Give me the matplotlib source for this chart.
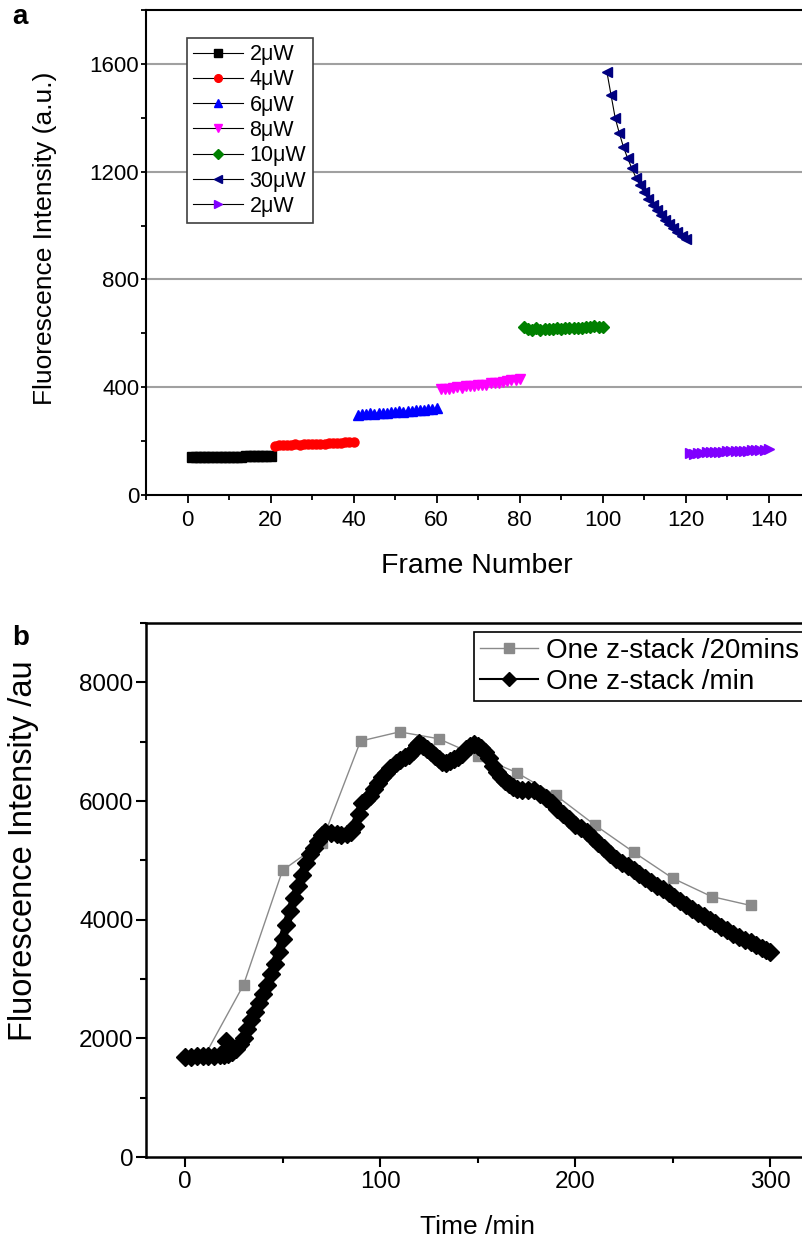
import numpy as np
import matplotlib
matplotlib.use("Agg")
import matplotlib.pyplot as plt
from matplotlib.ticker import MultipleLocator

plt.rcParams['font.family'] = ['Liberation Sans', 'DejaVu Sans']

# ---- panel a data: frame number vs intensity, one block of 20 frames per power
labels_a = ["2\u03bcW", "4\u03bcW", "6\u03bcW", "8\u03bcW", "10\u03bcW", "30\u03bcW", "2\u03bcW"]
frames_a = [np.arange(1, 21), np.arange(21, 41), np.arange(41, 61), np.arange(61, 81),
            np.arange(81, 101), np.arange(101, 121), np.arange(121, 141)]
p2 = [141, 140, 140, 141, 140, 140, 141, 140, 140, 141, 140, 140, 141, 145, 146, 145, 145, 146, 145, 146]
p4 = [183, 186, 185, 187, 186, 188, 187, 189, 188, 190, 189, 191, 190, 192, 193, 192, 194, 195, 196, 197]
p6 = [296, 300, 301, 303, 302, 305, 306, 305, 308, 309, 310, 309, 312, 313, 315, 314, 317, 318, 320, 322]
p8 = [392, 395, 393, 397, 399, 398, 403, 405, 404, 408, 410, 409, 414, 416, 415, 420, 424, 425, 428, 432]
p10 = [622, 615, 612, 618, 614, 617, 615, 616, 618, 617, 619, 618, 620, 619, 621, 622, 623, 628, 625, 624]
p30 = [1571, 1485, 1400, 1343, 1291, 1250, 1213, 1178, 1149, 1123, 1099, 1076, 1056, 1038, 1020,
       1004, 990, 976, 962, 950]
p2b = [155, 153, 156, 157, 158, 158, 160, 160, 161, 162, 162, 163, 164, 165, 165, 166, 167, 168, 168, 170]
values_a = [p2, p4, p6, p8, p10, p30, p2b]
colors_a = ["black", "red", "blue", "magenta", "green", "navy", "#8000ff"]
markers_a = ["s", "o", "^", "v", "D", "<", ">"]

# ---- panel b data
t_20 = [10, 30, 50, 70, 90, 110, 130, 150, 170, 190, 210, 230, 250, 270, 290]
v_20 = [1700, 2900, 4830, 5300, 7010, 7165, 7050, 6760, 6480, 6100, 5600, 5140, 4700, 4390, 4240]

# one z-stack per minute
t_min = [0, 3, 6, 9, 12, 15, 18, 20, 21, 22,
         24, 26, 28, 30, 32, 34, 36, 38, 40, 42, 44, 46, 48, 50, 52, 54, 56, 58, 60, 62, 64, 66, 68, 70, 72,
         75, 78, 80, 83, 85, 87, 89, 91, 93, 95, 97, 99, 101, 103, 105, 108, 110, 113, 115, 117, 119, 120,
         122, 124, 126, 128, 130, 132, 134, 136, 138, 140, 142, 144, 146, 148, 150, 152, 154, 156, 158,
         160, 162, 164, 166, 168, 170,
         173, 176, 179, 182, 185, 188, 191, 194, 197, 200, 203, 206, 209, 212, 215, 218, 221, 224,
         227, 230, 233, 236, 239, 242, 245, 248, 251, 254, 257, 260, 263, 266, 269, 272, 275, 278,
         281, 284, 287, 290, 293, 296, 298, 300]
v_min = [1690, 1690, 1695, 1700, 1700, 1705, 1715, 1725, 1950, 1740,
         1770, 1820, 1900, 2000, 2150, 2310, 2450, 2600, 2740, 2900, 3080, 3250, 3460, 3680, 3910,
         4140, 4360, 4560, 4760, 4950, 5100, 5210, 5330, 5420, 5470,
         5460, 5440, 5430, 5440, 5480, 5580, 5780, 5960, 6020, 6080, 6200, 6310, 6400, 6480, 6560,
         6640, 6690, 6740, 6770, 6850, 6950, 6980,
         6930, 6880, 6820, 6760, 6710, 6660, 6640, 6670, 6710, 6750, 6800, 6870, 6930, 6960, 6930,
         6890, 6820, 6720, 6590, 6490, 6410, 6340, 6280, 6230, 6200,
         6190, 6190, 6180, 6120, 6050, 5960, 5870, 5780, 5690, 5600, 5540, 5470, 5380, 5290, 5200,
         5110, 5030, 4960, 4900, 4840, 4770, 4700, 4630, 4570, 4510, 4450, 4390, 4320, 4250, 4180,
         4120, 4060, 4000, 3940, 3880, 3820, 3760, 3700, 3650, 3620, 3580, 3530, 3490, 3450]

W, H = 802, 1246
fig = plt.figure(figsize=(W / 100, H / 100), dpi=100)

# ---------------- panel a
axa = fig.add_axes([146 / W, 1 - 495 / H, (W - 146) / W, 485 / H])
for x, y, c, m, lab in zip(frames_a, values_a, colors_a, markers_a, labels_a):
    axa.plot(x, y, color="black", lw=0.8, marker=m, ms=6.5, mfc=c, mec=c, label=lab)
axa.set_xlim(-10, 148)
axa.set_ylim(0, 1800)
axa.xaxis.set_major_locator(MultipleLocator(20))
axa.xaxis.set_minor_locator(MultipleLocator(10))
axa.yaxis.set_major_locator(MultipleLocator(400))
axa.yaxis.set_minor_locator(MultipleLocator(200))
for yv in [400, 800, 1200, 1600]:
    axa.axhline(yv, color="#a0a0a0", lw=1.5, zorder=0)
axa.spines["right"].set_visible(False)
for s in axa.spines.values():
    s.set_linewidth(1.5)
axa.tick_params(which="both", direction="out", width=1.3, labelsize=16)
axa.tick_params(axis="x", which="major", length=5.8, pad=5)
axa.tick_params(axis="x", which="minor", length=3.6)
axa.tick_params(axis="y", which="both", length=3.6, pad=1.2)
axa.set_xlabel("Frame Number", fontsize=20.5)
axa.set_ylabel("Fluorescence Intensity (a.u.)", fontsize=19)
axa.xaxis.set_label_coords(0.505, -0.12)
axa.yaxis.set_label_coords(-0.136, 0.53)
leg = axa.legend(loc="upper left", bbox_to_anchor=(0.0625, 0.943), fontsize=15.5, fancybox=False,
                 edgecolor="#404040", framealpha=1, handlelength=2.3, handletextpad=0.3,
                 labelspacing=0.2, borderpad=0.3, borderaxespad=0, markerscale=0.85)
leg.get_frame().set_linewidth(1.2)
fig.text(12 / W, 1 - 24 / H, "a", fontsize=20, fontweight="bold")

# ---------------- panel b
axb = fig.add_axes([146 / W, 1 - 1157 / H, (W - 146) / W, 534 / H])
axb.plot(t_20, v_20, color="#8a8a8a", lw=1, marker="s", ms=7, label="One z-stack /20mins", zorder=2)
axb.plot(t_min, v_min, color="black", lw=6, marker="D", ms=9, label="One z-stack /min", zorder=3)
axb.set_xlim(-20, 316.4)
axb.set_ylim(0, 9000)
axb.xaxis.set_major_locator(MultipleLocator(100))
axb.xaxis.set_minor_locator(MultipleLocator(50))
axb.yaxis.set_major_locator(MultipleLocator(2000))
axb.yaxis.set_minor_locator(MultipleLocator(1000))
axb.spines["right"].set_visible(False)
for s in axb.spines.values():
    s.set_linewidth(1.8)
axb.tick_params(which="major", direction="out", length=7, width=1.5, labelsize=17.5)
axb.tick_params(which="minor", direction="out", length=4.5, width=1.5)
axb.tick_params(axis="x", pad=3)
axb.tick_params(axis="y", pad=2)
axb.set_xlabel("Time /min", fontsize=19)
axb.set_ylabel("Fluorescence Intensity /au", fontsize=23.5)
axb.xaxis.set_label_coords(0.505, -0.109)
axb.yaxis.set_label_coords(-0.163, 0.573)
legb = axb.legend(loc="upper left", bbox_to_anchor=(0.5, 0.983), fontsize=20, fancybox=False,
                  edgecolor="black", framealpha=1, handlelength=2.1, handletextpad=0.3,
                  labelspacing=0.2, borderpad=0.2, borderaxespad=0)
legb.get_frame().set_linewidth(1.2)
legb.legend_handles[1].set_linewidth(1.5)
legb.legend_handles[1].set_markersize(7)
fig.text(12 / W, 1 - 645 / H, "b", fontsize=20, fontweight="bold")

fig.savefig("out.png", dpi=100)
